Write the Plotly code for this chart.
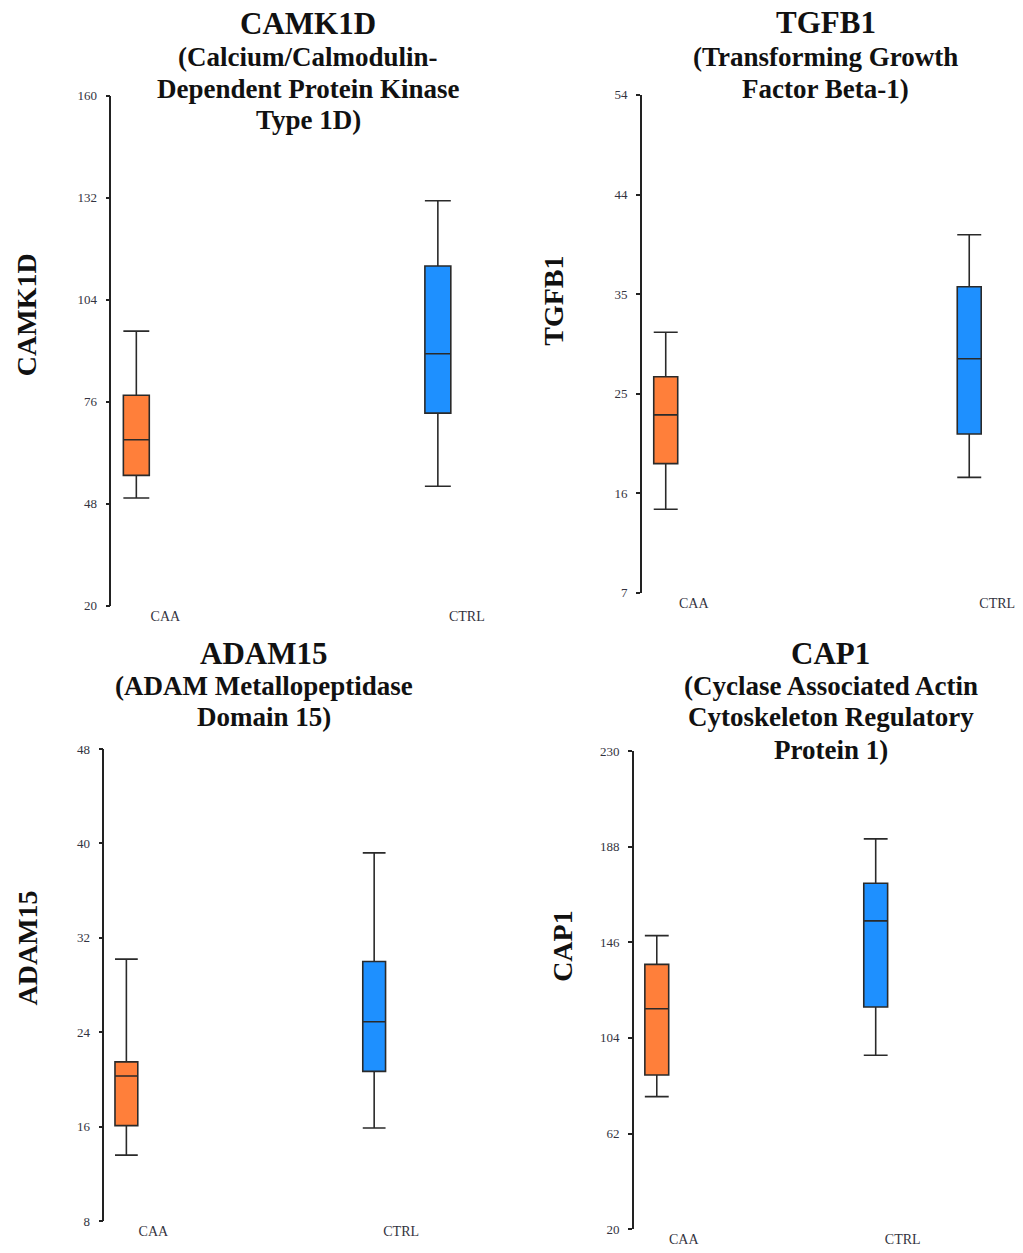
import plotly.graph_objects as go

W, H = 1023, 1253

groups = ["CAA", "CTRL"]
genes = ["CAMK1D", "TGFB1", "ADAM15", "CAP1"]
subtitles = [
    ["(Calcium/Calmodulin-", "Dependent Protein Kinase", "Type 1D)"],
    ["(Transforming Growth", "Factor Beta-1)"],
    ["(ADAM Metallopeptidase", "Domain 15)"],
    ["(Cyclase Associated Actin", "Cytoskeleton Regulatory", "Protein 1)"],
]

# box statistics per gene: [CAA, CTRL]
camk1d_low = [49.6, 52.8]
camk1d_q1 = [55.8, 72.9]
camk1d_med = [65.6, 89.2]
camk1d_q3 = [77.8, 113.3]
camk1d_high = [95.4, 131.2]

tgfb1_low = [14.9, 17.9]
tgfb1_q1 = [19.2, 22.0]
tgfb1_med = [23.8, 29.1]
tgfb1_q3 = [27.4, 35.9]
tgfb1_high = [31.6, 40.8]

adam15_low = [13.6, 15.9]
adam15_q1 = [16.1, 20.7]
adam15_med = [20.3, 24.9]
adam15_q3 = [21.5, 30.0]
adam15_high = [30.2, 39.2]

cap1_low = [78.2, 96.4]
cap1_q1 = [87.7, 117.6]
cap1_med = [116.8, 155.4]
cap1_q3 = [136.3, 171.9]
cap1_high = [148.9, 191.4]

# y-axis ranges and tick labels
y_ranges = [[20, 160], [7, 54], [8, 48], [20, 230]]
tick_labels = [
    ["20", "48", "76", "104", "132", "160"],
    ["7", "16", "25", "35", "44", "54"],
    ["8", "16", "24", "32", "40", "48"],
    ["20", "62", "104", "146", "188", "230"],
]

stats = [
    (camk1d_low, camk1d_q1, camk1d_med, camk1d_q3, camk1d_high),
    (tgfb1_low, tgfb1_q1, tgfb1_med, tgfb1_q3, tgfb1_high),
    (adam15_low, adam15_q1, adam15_med, adam15_q3, adam15_high),
    (cap1_low, cap1_q1, cap1_med, cap1_q3, cap1_high),
]

colors = ["#FF7F3A", "#1E90FF"]

# layout geometry (page pixels)
panels = [
    dict(x0=112, x1=510, c0=137, c1=440, y0=90, y1=606, bw=0.086, shift=29,
         title_x=310, title_y=[17, 51, 83, 114], ytitle=(26, 311)),
    dict(x0=645, x1=1015, c0=669, c1=974, y0=89, y1=593, bw=0.079, shift=28,
         title_x=830, title_y=[16, 51, 83], ytitle=(556, 297)),
    dict(x0=105, x1=460, c0=127, c1=376, y0=751, y1=1229, bw=0.092, shift=27,
         title_x=265, title_y=[654, 687, 719], ytitle=(28, 952)),
    dict(x0=637, x1=1000, c0=660, c1=880, y0=753, y1=1237, bw=0.109, shift=27,
         title_x=835, title_y=[654, 687, 719, 752], ytitle=(565, 950)),
]


def px(x):
    return x / W


def py(y):
    return 1 - y / H


fig = go.Figure()
annotations = []
serif = "Liberation Serif, Times New Roman, serif"

for i, p in enumerate(panels):
    k = "" if i == 0 else str(i + 1)
    lo, q1, med, q3, hi = stats[i]
    for g in range(2):
        fig.add_trace(go.Box(
            x=[g], q1=[q1[g]], median=[med[g]], q3=[q3[g]],
            lowerfence=[lo[g]], upperfence=[hi[g]],
            name=groups[g], width=p["bw"], whiskerwidth=1,
            fillcolor=colors[g], line=dict(color="#2a2a2a", width=1.6),
            boxpoints=False, showlegend=False, hoverinfo="skip",
            xaxis="x" + k, yaxis="y" + k,
        ))
    span = p["c1"] - p["c0"]
    r0 = (p["x0"] - p["c0"]) / span
    r1 = (p["x1"] - p["c0"]) / span
    ymin, ymax = y_ranges[i]
    step = (ymax - ymin) / 5
    fig.update_layout(**{
        "xaxis" + k: dict(
            domain=[px(p["x0"]), px(p["x1"])], range=[r0, r1],
            anchor="y" + k, showline=False, showgrid=False, zeroline=False,
            tickvals=[0, 1], ticktext=groups, ticks="",
            ticklabelshift=p["shift"], ticklabelstandoff=0,
            ticklabeloverflow="allow",
            tickfont=dict(family=serif, size=14, color="#333340"),
        ),
        "yaxis" + k: dict(
            domain=[py(p["y1"]), py(p["y0"])], range=[ymin, ymax],
            anchor="x" + k, showline=True, linecolor="#222222", linewidth=1.6,
            showgrid=False, zeroline=False, ticks="outside", ticklen=4,
            tickwidth=1.6, tickcolor="#222222", ticklabelstandoff=6,
            tickvals=[ymin + step * j for j in range(6)], ticktext=tick_labels[i],
            tickfont=dict(family=serif, size=13, color="#333340"),
        ),
    })
    lines = [genes[i]] + subtitles[i]
    for j, txt in enumerate(lines):
        annotations.append(dict(
            x=px(p["title_x"]), y=py(p["title_y"][j]), xref="paper", yref="paper",
            text="<b>" + txt + "</b>", showarrow=False, xanchor="center", yanchor="middle",
            font=dict(family=serif, size=31 if j == 0 else 27, color="#111111"),
        ))
    annotations.append(dict(
        x=px(p["ytitle"][0]), y=py(p["ytitle"][1]), xref="paper", yref="paper",
        text="<b>" + genes[i] + "</b>", showarrow=False, textangle=-90,
        xanchor="center", yanchor="middle",
        font=dict(family=serif, size=28, color="#111111"),
    ))

fig.update_layout(
    width=W, height=H, margin=dict(l=0, r=0, t=0, b=0),
    paper_bgcolor="white", plot_bgcolor="white",
    annotations=annotations, showlegend=False,
)

fig.write_html(
    "out.html",
    config={"displayModeBar": False},
    post_script="document.body.style.margin='0';",
)
